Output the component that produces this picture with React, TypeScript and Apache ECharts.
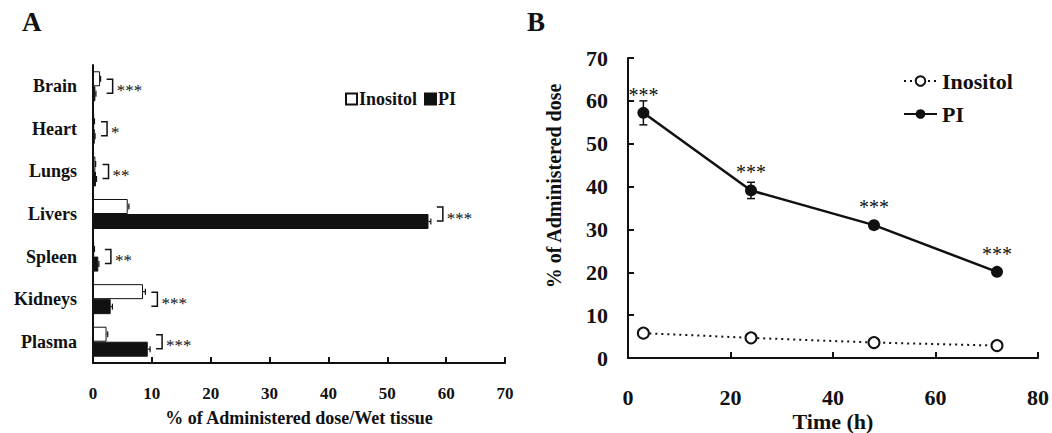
import React, { useEffect, useRef } from 'react';
import * as echarts from 'echarts';

const organs = ['Brain', 'Heart', 'Lungs', 'Livers', 'Spleen', 'Kidneys', 'Plasma'];
const inositolTissue = [1.2, 0.2, 0.4, 5.9, 0.2, 8.5, 2.3];
const inositolTissueErr = [0.1, 0.05, 0.05, 0.2, 0.05, 0.4, 0.2];
const piTissue = [0.4, 0.3, 0.5, 57.0, 0.9, 3.0, 9.3];
const piTissueErr = [0.1, 0.05, 0.1, 0.4, 0.1, 0.3, 0.4];
const tissueSig = ['***', '*', '**', '***', '**', '***', '***'];

const timeHours = [3, 24, 48, 72];
const inositolPlasma = [5.8, 4.7, 3.6, 2.9];
const inositolPlasmaErr = [0.3, 0.3, 0.2, 0.2];
const piPlasma = [57.2, 39.1, 31.0, 20.1];
const piPlasmaErr = [2.8, 1.9, 0.8, 0.5];
const timeSig = ['***', '***', '***', '***'];

const FONT = 'Liberation Serif';
const INK = '#111';
const BAR_W = 15;

function buildOption(): any {
  const boldText = (size: number) => ({ fontFamily: FONT, fontWeight: 'bold', fontSize: size, color: INK });
  const axisLine = { show: true, lineStyle: { color: INK, width: 2 } };
  const tick = { show: true, inside: true, length: 6, lineStyle: { color: INK, width: 2 } };

  const tissueErrSeries = (vals: number[], errs: number[], off: number) => ({
    type: 'custom',
    xAxisIndex: 0,
    yAxisIndex: 0,
    z: 5,
    encode: { x: 0, y: 1 },
    data: vals.map((v, i) => [v, i, errs[i]]),
    renderItem: (params: any, api: any) => {
      const v = api.value(0);
      const c = api.value(1);
      const e = api.value(2);
      const p0 = api.coord([v, c]);
      const p1 = api.coord([v + e, c]);
      const y = p0[1] + off;
      return {
        type: 'group',
        children: [
          { type: 'line', shape: { x1: p0[0], y1: y, x2: p1[0], y2: y }, style: { stroke: INK, lineWidth: 1.2 } },
          { type: 'line', shape: { x1: p1[0], y1: y - 3, x2: p1[0], y2: y + 3 }, style: { stroke: INK, lineWidth: 1.2 } },
        ],
      };
    },
  });

  const timeErrSeries = (vals: number[], errs: number[]) => ({
    type: 'custom',
    xAxisIndex: 1,
    yAxisIndex: 1,
    z: 1,
    encode: { x: 0, y: 1 },
    data: vals.map((v, i) => [timeHours[i], v, errs[i]]),
    renderItem: (params: any, api: any) => {
      const t = api.value(0);
      const v = api.value(1);
      const e = api.value(2);
      const pLo = api.coord([t, v - e]);
      const pHi = api.coord([t, v + e]);
      const x = pLo[0];
      return {
        type: 'group',
        children: [
          { type: 'line', shape: { x1: x, y1: pLo[1], x2: x, y2: pHi[1] }, style: { stroke: INK, lineWidth: 1.5 } },
          { type: 'line', shape: { x1: x - 4, y1: pLo[1], x2: x + 4, y2: pLo[1] }, style: { stroke: INK, lineWidth: 1.5 } },
          { type: 'line', shape: { x1: x - 4, y1: pHi[1], x2: x + 4, y2: pHi[1] }, style: { stroke: INK, lineWidth: 1.5 } },
        ],
      };
    },
  });

  return {
    animation: false,
    backgroundColor: '#fff',
    title: [
      { text: 'A', left: 22, top: 8, padding: 0, textStyle: boldText(27) },
      { text: 'B', left: 527, top: 8, padding: 0, textStyle: boldText(27) },
    ],
    legend: [
      {
        data: ['Inositol (tissue)', 'PI (tissue)'],
        left: 345,
        top: 90,
        padding: 0,
        icon: 'rect',
        itemWidth: 11,
        itemHeight: 11,
        itemGap: 7,
        formatter: (n: string) => n.split(' ')[0],
        textStyle: { ...boldText(18), padding: [0, 0, 0, -3] },
      },
      {
        data: ['Inositol (time)', 'PI (time)'],
        orient: 'vertical',
        left: 903,
        top: 70,
        padding: 0,
        itemWidth: 33,
        itemHeight: 12,
        itemGap: 11,
        formatter: (n: string) => n.split(' ')[0],
        textStyle: boldText(22),
      },
    ],
    grid: [
      { left: 93, top: 65, width: 412, height: 298, outerBoundsMode: 'none', containLabel: false },
      { left: 628, top: 58, width: 410, height: 300, outerBoundsMode: 'none', containLabel: false },
    ],
    xAxis: [
      {
        gridIndex: 0,
        type: 'value',
        min: 0,
        max: 70,
        interval: 10,
        axisLine,
        axisTick: tick,
        splitLine: { show: false },
        axisLabel: { ...boldText(17), margin: 22 },
        name: '% of Administered dose/Wet tissue',
        nameLocation: 'middle',
        nameGap: 46,
        nameTextStyle: boldText(18),
      },
      {
        gridIndex: 1,
        type: 'value',
        min: 0,
        max: 80,
        interval: 20,
        axisLine,
        axisTick: tick,
        splitLine: { show: false },
        axisLabel: { ...boldText(22), margin: 28 },
        name: 'Time (h)',
        nameLocation: 'middle',
        nameGap: 52,
        nameMoveOverlap: false,
        nameTextStyle: boldText(22),
      },
    ],
    yAxis: [
      {
        gridIndex: 0,
        type: 'category',
        data: organs,
        inverse: true,
        axisLine,
        axisTick: { show: false },
        axisLabel: { ...boldText(18), margin: 16 },
      },
      {
        gridIndex: 1,
        type: 'value',
        min: 0,
        max: 70,
        interval: 10,
        axisLine,
        axisTick: tick,
        splitLine: { show: false },
        axisLabel: { ...boldText(22), margin: 20 },
        name: '% of Administered dose',
        nameLocation: 'middle',
        nameGap: 64,
        nameTextStyle: { ...boldText(20), padding: [0, 0, 0, 44] },
      },
    ],
    series: [
      {
        name: 'Inositol (tissue)',
        type: 'bar',
        xAxisIndex: 0,
        yAxisIndex: 0,
        data: inositolTissue,
        barWidth: BAR_W,
        barGap: '0%',
        itemStyle: { color: '#fff', borderColor: INK, borderWidth: 1 },
      },
      {
        name: 'PI (tissue)',
        type: 'bar',
        xAxisIndex: 0,
        yAxisIndex: 0,
        data: piTissue,
        barWidth: BAR_W,
        barGap: '0%',
        itemStyle: { color: INK, borderColor: INK, borderWidth: 1 },
      },
      tissueErrSeries(inositolTissue, inositolTissueErr, -BAR_W / 2),
      tissueErrSeries(piTissue, piTissueErr, BAR_W / 2),
      {
        type: 'custom',
        xAxisIndex: 0,
        yAxisIndex: 0,
        z: 5,
        encode: { x: 0, y: 1 },
        data: organs.map((o, i) => [
          Math.max(inositolTissue[i] + inositolTissueErr[i], piTissue[i] + piTissueErr[i]),
          i,
        ]),
        renderItem: (params: any, api: any) => {
          const p = api.coord([api.value(0), api.value(1)]);
          const x = p[0] + 6;
          const y = p[1];
          return {
            type: 'group',
            children: [
              {
                type: 'polyline',
                shape: { points: [[x, y - 7], [x + 6, y - 7], [x + 6, y + 7], [x, y + 7]] },
                style: { stroke: INK, lineWidth: 1.5, fill: 'none' },
              },
              {
                type: 'text',
                style: {
                  text: tissueSig[params.dataIndex],
                  x: x + 10,
                  y: y + 4,
                  verticalAlign: 'middle',
                  fontSize: 17,
                  fontFamily: FONT,
                  fill: INK,
                },
              },
            ],
          };
        },
      },
      timeErrSeries(piPlasma, piPlasmaErr),
      timeErrSeries(inositolPlasma, inositolPlasmaErr),
      {
        name: 'Inositol (time)',
        type: 'line',
        xAxisIndex: 1,
        yAxisIndex: 1,
        z: 3,
        data: timeHours.map((t, i) => [t, inositolPlasma[i]]),
        symbol: 'emptyCircle',
        symbolSize: 11,
        lineStyle: { color: INK, width: 2, type: [2, 4] },
        itemStyle: { color: INK, borderColor: INK, borderWidth: 1.5 },
      },
      {
        name: 'PI (time)',
        type: 'line',
        xAxisIndex: 1,
        yAxisIndex: 1,
        z: 3,
        data: timeHours.map((t, i) => [t, piPlasma[i]]),
        symbol: 'circle',
        symbolSize: 12,
        lineStyle: { color: INK, width: 2.5 },
        itemStyle: { color: INK },
        label: {
          show: true,
          position: 'top',
          distance: 2,
          formatter: (p: any) => timeSig[p.dataIndex],
          fontSize: 20,
          fontFamily: FONT,
          color: INK,
        },
      },
    ],
  };
}

export default function App() {
  const ref = useRef<HTMLDivElement>(null);
  useEffect(() => {
    document.body.style.margin = '0';
    if (!ref.current) return;
    const chart = echarts.init(ref.current, undefined, { renderer: 'svg' });
    chart.setOption(buildOption());
    return () => chart.dispose();
  }, []);
  return <div ref={ref} style={{ width: 1052, height: 433 }} />;
}
